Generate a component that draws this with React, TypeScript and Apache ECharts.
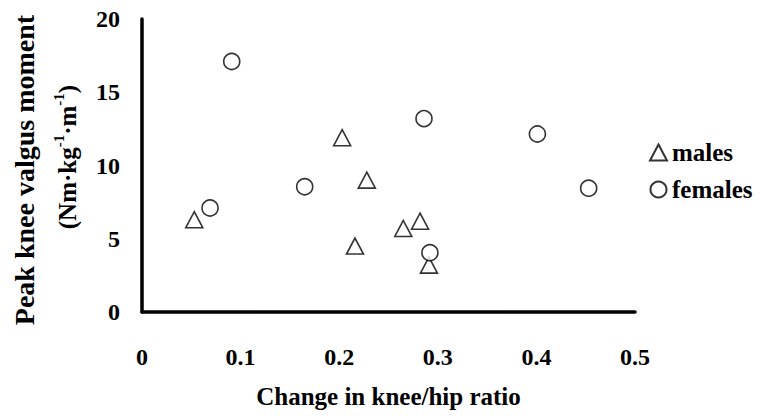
import React, { useEffect, useRef } from "react";
import * as echarts from "echarts";

const xTicks = [0, 0.1, 0.2, 0.3, 0.4, 0.5];
const yTicks = [0, 5, 10, 15, 20];

const maleChange = [0.053, 0.203, 0.216, 0.228, 0.265, 0.282, 0.291];
const maleMoment = [6.3, 11.9, 4.5, 9.0, 5.7, 6.2, 3.2];

const femaleChange = [0.069, 0.091, 0.165, 0.286, 0.292, 0.401, 0.453];
const femaleMoment = [7.1, 17.1, 8.55, 13.2, 4.05, 12.15, 8.45];

const FONT = "'Liberation Serif', 'Times New Roman', serif";

export default function App() {
  const ref = useRef<HTMLDivElement>(null);
  useEffect(() => {
    if (!ref.current) return;
    const chart = echarts.init(ref.current, undefined, { renderer: "svg" });
    const markerStyle = { color: "#ffffff", borderColor: "#000000", borderWidth: 1.6 };
    chart.setOption({
      animation: false,
      backgroundColor: "#ffffff",
      grid: { left: 142, top: 19, right: 125, bottom: 104, containLabel: false },
      xAxis: {
        type: "value",
        min: xTicks[0],
        max: xTicks[xTicks.length - 1],
        interval: 0.1,
        name: "Change in knee/hip ratio",
        nameLocation: "middle",
        nameGap: 72,
        nameTextStyle: { fontFamily: FONT, fontWeight: "bold", fontSize: 25, color: "#000" },
        axisLine: { show: true, lineStyle: { color: "#000", width: 3.5, cap: "round" } },
        axisTick: { show: false },
        splitLine: { show: false },
        axisLabel: {
          margin: 33,
          fontFamily: FONT,
          fontWeight: "bold",
          fontSize: 24,
          color: "#000",
          formatter: (v: number) => (v === 0 ? "0" : v.toFixed(1)),
        },
      },
      yAxis: {
        type: "value",
        min: yTicks[0],
        max: yTicks[yTicks.length - 1],
        interval: 5,
        axisLine: { show: true, lineStyle: { color: "#000", width: 3.5, cap: "round" } },
        axisTick: { show: false },
        splitLine: { show: false },
        axisLabel: {
          margin: 22,
          fontFamily: FONT,
          fontWeight: "bold",
          fontSize: 24,
          color: "#000",
        },
      },
      legend: {
        orient: "vertical",
        left: 644,
        top: 135,
        itemWidth: 17,
        itemHeight: 16,
        itemGap: 12,
        textStyle: { fontFamily: FONT, fontWeight: "bold", fontSize: 25, color: "#000" },
        data: [
          { name: "males", icon: "triangle" },
          { name: "females", icon: "circle" },
        ],
      },
      graphic: [
        {
          type: "text",
          x: 24,
          y: 170,
          rotation: Math.PI / 2,
          style: {
            text: "Peak knee valgus moment",
            fontFamily: FONT,
            fontWeight: "bold",
            fontSize: 28,
            fill: "#000",
            textAlign: "center",
            textVerticalAlign: "middle",
          },
        },
        {
          type: "text",
          x: 67,
          y: 157,
          rotation: Math.PI / 2,
          style: {
            text: "(Nm·kg{s|-1}·m{s|-1})",
            fontFamily: FONT,
            fontWeight: "bold",
            fontSize: 25,
            lineHeight: 32,
            fill: "#000",
            textAlign: "center",
            textVerticalAlign: "middle",
            rich: {
              s: {
                fontFamily: FONT,
                fontWeight: "bold",
                fontSize: 15,
                lineHeight: 32,
                verticalAlign: "top",
                fill: "#000",
              },
            },
          },
        },
      ],
      series: [
        {
          name: "males",
          type: "scatter",
          symbol: "triangle",
          symbolSize: [17, 16],
          itemStyle: markerStyle,
          data: maleChange.map((x, i) => [x, maleMoment[i]]),
        },
        {
          name: "females",
          type: "scatter",
          symbol: "circle",
          symbolSize: 16,
          itemStyle: markerStyle,
          data: femaleChange.map((x, i) => [x, femaleMoment[i]]),
        },
      ],
    });
    return () => chart.dispose();
  }, []);
  return (
    <div
      ref={ref}
      style={{ position: "fixed", left: 0, top: 0, width: 760, height: 416, background: "#fff" }}
    />
  );
}
